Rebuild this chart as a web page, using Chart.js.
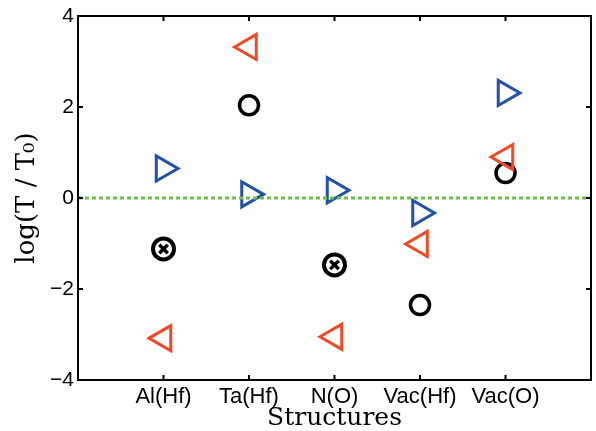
<!DOCTYPE html>
<html>
<head>
<meta charset="utf-8">
<script src="https://cdn.jsdelivr.net/npm/chart.js@4/dist/chart.umd.min.js"></script>
<style>
html,body{margin:0;padding:0;background:#fff;}
#wrap{width:596px;height:431px;position:relative;}
</style>
</head>
<body>
<div id="wrap"><canvas id="c" width="596" height="431"></canvas></div>
<script>
// ---- data ----
const categories = ['Al(Hf)', 'Ta(Hf)', 'N(O)', 'Vac(Hf)', 'Vac(O)'];
const blueRight = [0.65, 0.08, 0.17, -0.33, 2.31];
const redLeft = [-3.08, 3.32, -3.05, -1.01, 0.90];
const blackCircle = [null, 2.04, null, -2.35, 0.55];
const blackCrossed = [-1.12, null, -1.47, null, null];
const yTicks = [-4, -2, 0, 2, 4];
const refLine = [0, 0];

const toPts = arr => arr.map((v, i) => v === null ? null : {x: i + 1, y: v}).filter(p => p);

const framePlugin = {
  id: 'frame',
  afterDraw(chart) {
    const {ctx, chartArea: a, scales} = chart;
    ctx.save();
    ctx.strokeStyle = '#000';
    ctx.lineWidth = 2;
    ctx.strokeRect(a.left, a.top, a.right - a.left, a.bottom - a.top);
    const L = 5;
    ctx.beginPath();
    yTicks.forEach(v => {
      const y = scales.y.getPixelForValue(v);
      ctx.moveTo(a.left, y); ctx.lineTo(a.left + L, y);
      ctx.moveTo(a.right, y); ctx.lineTo(a.right - L, y);
    });
    categories.forEach((c, i) => {
      const x = scales.x.getPixelForValue(i + 1);
      ctx.moveTo(x, a.bottom); ctx.lineTo(x, a.bottom - L);
      ctx.moveTo(x, a.top); ctx.lineTo(x, a.top + L);
    });
    ctx.stroke();
    ctx.restore();
  }
};

new Chart(document.getElementById('c'), {
  type: 'scatter',
  data: {
    datasets: [
      {
        type: 'line',
        data: [{x: 0, y: refLine[0]}, {x: categories.length + 1, y: refLine[1]}],
        borderColor: '#6cc04a',
        borderWidth: 3,
        borderDash: [4, 3],
        pointRadius: 0,
        fill: false,
        order: 0
      },
      {
        data: toPts(blueRight),
        pointStyle: 'triangle',
        rotation: 90,
        pointRadius: 14.5,
        pointHoverRadius: 14.5,
        borderColor: '#2150ad',
        backgroundColor: 'rgba(0,0,0,0)',
        borderWidth: 3,
        order: 2
      },
      {
        data: toPts(redLeft),
        pointStyle: 'triangle',
        rotation: -90,
        pointRadius: 14.5,
        pointHoverRadius: 14.5,
        borderColor: '#ee4a26',
        backgroundColor: 'rgba(0,0,0,0)',
        borderWidth: 3,
        order: 2
      },
      {
        data: toPts(blackCircle),
        pointStyle: 'circle',
        pointRadius: 9.5,
        pointHoverRadius: 9.5,
        borderColor: '#000',
        backgroundColor: 'rgba(0,0,0,0)',
        borderWidth: 3.5,
        order: 2
      },
      {
        data: toPts(blackCrossed),
        pointStyle: 'circle',
        pointRadius: 10.5,
        pointHoverRadius: 10.5,
        borderColor: '#000',
        backgroundColor: 'rgba(0,0,0,0)',
        borderWidth: 4,
        order: 2
      },
      {
        data: toPts(blackCrossed),
        pointStyle: 'crossRot',
        pointRadius: 6,
        pointHoverRadius: 6,
        borderColor: '#000',
        borderWidth: 3.5,
        order: 2
      }
    ]
  },
  options: {
    responsive: false,
    animation: false,
    events: [],
    layout: {autoPadding: false, padding: {left: 0, right: 5, top: 16, bottom: 0}},
    plugins: {legend: {display: false}, tooltip: {enabled: false}},
    scales: {
      x: {
        type: 'linear',
        min: 0,
        max: categories.length + 1,
        afterFit(s) { s.height = 51; s.paddingLeft = 0; s.paddingRight = 0; },
        afterBuildTicks(s) { s.ticks = categories.map((c, i) => ({value: i + 1})); },
        grid: {display: false, drawTicks: false},
        border: {display: false},
        ticks: {
          autoSkip: false,
          maxRotation: 0,
          padding: 4,
          color: '#000',
          font: {family: '"Liberation Sans", Arial, sans-serif', size: 22},
          callback: v => categories[v - 1] || ''
        },
        title: {
          display: true,
          text: 'Structures',
          color: '#000',
          padding: {top: 0, bottom: 0},
          font: {family: '"DejaVu Serif", serif', size: 25, lineHeight: 1.0}
        }
      },
      y: {
        min: -4,
        max: 4,
        afterFit(s) { s.width = 78; s.paddingTop = 0; s.paddingBottom = 0; },
        afterBuildTicks(s) { s.ticks = yTicks.map(v => ({value: v})); },
        grid: {display: false, drawTicks: false},
        border: {display: false},
        ticks: {
          padding: 4,
          color: '#000',
          font: {family: '"Liberation Sans", Arial, sans-serif', size: 21},
          callback: v => String(v).replace('-', '\u2212')
        },
        title: {
          display: true,
          text: 'log(T / T\u2080)',
          color: '#000',
          padding: {top: 14, bottom: 0},
          font: {family: '"DejaVu Serif", serif', size: 26, lineHeight: 1.0}
        }
      }
    }
  },
  plugins: [framePlugin]
});
</script>
</body>
</html>
